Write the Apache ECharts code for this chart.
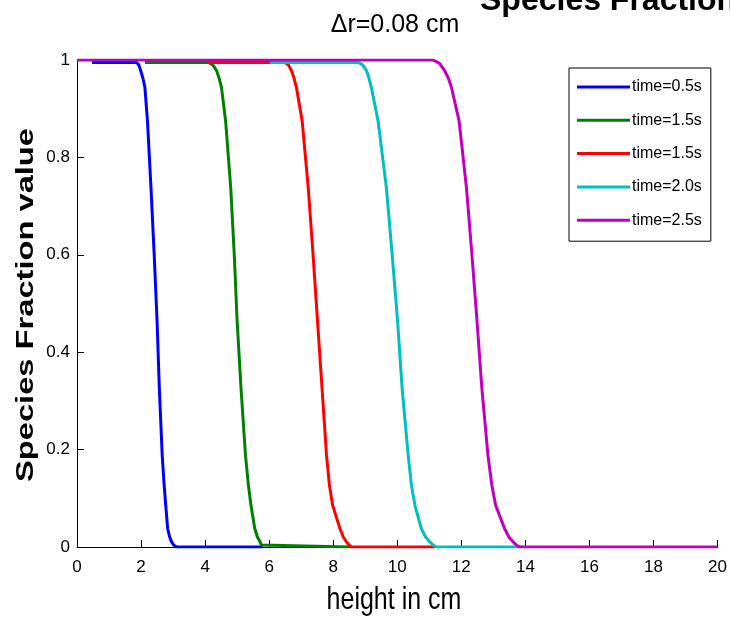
<!DOCTYPE html>
<html>
<head>
<meta charset="utf-8">
<title>Species Fraction</title>
<script src="https://cdn.jsdelivr.net/npm/echarts@6/dist/echarts.min.js"></script>
<style>
  html, body { margin: 0; padding: 0; background: #fff; }
  #chart { width: 730px; height: 623px; }
</style>
</head>
<body>
<div id="chart"></div>
<script>
// Species fraction profiles along the column height at successive times.
const legendLabels = ['time=0.5s', 'time=1.5s', 'time=1.5s', 'time=2.0s', 'time=2.5s'];
const seriesKeys = ['t1', 't2', 't3', 't4', 't5'];
const lineColors = ['#0000ff', '#008000', '#ff0000', '#00bfbf', '#bf00bf'];

const xTicks = [0, 2, 4, 6, 8, 10, 12, 14, 16, 18, 20];
const yTicks = [0, 0.2, 0.4, 0.6, 0.8, 1];

// height (cm) / fraction pairs for each profile
const height1 = [0.47, 1.86, 1.93, 1.99, 2.06, 2.12, 2.20, 2.31, 2.41, 2.50, 2.57, 2.66, 2.72, 2.77, 2.83, 2.89, 2.95, 3.02, 3.11, 5.80];
const frac1   = [0.995, 0.995, 0.99, 0.978, 0.962, 0.944, 0.875, 0.738, 0.601, 0.464, 0.327, 0.189, 0.128, 0.086, 0.038, 0.021, 0.011, 0.004, 0, 0];

const height2 = [2.12, 4.10, 4.24, 4.36, 4.44, 4.51, 4.64, 4.80, 4.91, 5.00, 5.12, 5.26, 5.35, 5.43, 5.55, 5.63, 5.71, 5.76, 5.82, 8.50];
const frac2   = [0.995, 0.995, 0.99, 0.978, 0.962, 0.944, 0.875, 0.738, 0.601, 0.464, 0.327, 0.189, 0.128, 0.086, 0.038, 0.021, 0.011, 0.004, 0, 0];

const height3 = [4.10, 6.49, 6.60, 6.70, 6.78, 6.85, 7.03, 7.22, 7.37, 7.51, 7.65, 7.79, 7.88, 7.98, 8.21, 8.31, 8.41, 8.49, 8.57, 11.20];
const frac3   = [0.995, 0.995, 0.99, 0.978, 0.962, 0.944, 0.875, 0.738, 0.601, 0.464, 0.327, 0.189, 0.128, 0.086, 0.038, 0.021, 0.011, 0.004, 0, 0];

const height4 = [6.02, 8.78, 8.92, 9.04, 9.12, 9.19, 9.40, 9.66, 9.84, 10.01, 10.15, 10.34, 10.44, 10.55, 10.75, 10.88, 11.01, 11.12, 11.22, 13.90];
const frac4   = [0.995, 0.995, 0.99, 0.978, 0.962, 0.944, 0.875, 0.738, 0.601, 0.464, 0.327, 0.189, 0.128, 0.086, 0.038, 0.021, 0.011, 0.004, 0, 0];

const height5 = [0, 11.12, 11.32, 11.48, 11.60, 11.69, 11.93, 12.16, 12.33, 12.49, 12.64, 12.83, 12.95, 13.07, 13.35, 13.48, 13.61, 13.72, 13.82, 20];
const frac5   = [1, 1, 0.993, 0.978, 0.962, 0.944, 0.875, 0.738, 0.601, 0.464, 0.327, 0.189, 0.128, 0.086, 0.038, 0.021, 0.011, 0.004, 0, 0];

const heights = [height1, height2, height3, height4, height5];
const fracs = [frac1, frac2, frac3, frac4, frac5];

const sans = '"Liberation Sans", Arial, Helvetica, sans-serif';

const chart = echarts.init(document.getElementById('chart'), null, { renderer: 'canvas' });

const series = seriesKeys.map((key, i) => ({
  name: key,
  type: 'line',
  data: heights[i].map((h, j) => [h, fracs[i][j]]),
  showSymbol: false,
  smooth: false,
  lineStyle: { color: lineColors[i], width: 3, join: 'round' },
  itemStyle: { color: lineColors[i] },
  z: 2 + i,
  silent: true,
  animation: false
}));

chart.setOption({
  animation: false,
  backgroundColor: '#ffffff',
  grid: { left: 77, right: 12, top: 60, bottom: 76, containLabel: false },
  xAxis: {
    type: 'value',
    min: xTicks[0],
    max: xTicks[xTicks.length - 1],
    interval: 2,
    axisLine: { show: true, lineStyle: { color: '#000', width: 1 } },
    axisTick: { show: true, inside: true, length: 7, lineStyle: { color: '#000' } },
    axisLabel: { fontFamily: sans, fontSize: 17, color: '#000', margin: 12 },
    splitLine: { show: false }
  },
  yAxis: {
    type: 'value',
    min: yTicks[0],
    max: yTicks[yTicks.length - 1],
    interval: 0.2,
    axisLine: { show: true, lineStyle: { color: '#000', width: 1 } },
    axisTick: { show: true, inside: true, length: 7, lineStyle: { color: '#000' } },
    axisLabel: { fontFamily: sans, fontSize: 17, color: '#000', margin: 7 },
    splitLine: { show: false }
  },
  legend: {
    orient: 'vertical',
    left: 569,
    top: 68,
    padding: [9, 9, 11, 8],
    itemGap: 13.3,
    itemWidth: 53,
    itemHeight: 3,
    icon: 'rect',
    borderColor: '#000',
    borderWidth: 1,
    borderRadius: 0,
    backgroundColor: '#fff',
    selectedMode: false,
    data: seriesKeys,
    formatter: (name) => legendLabels[seriesKeys.indexOf(name)],
    textStyle: { fontFamily: sans, fontSize: 16, color: '#000', lineHeight: 20, padding: [0, 0, 0, -3] }
  },
  graphic: [
    {
      // y-axis title
      type: 'text',
      x: 27,
      y: 305,
      rotation: Math.PI / 2,
      scaleX: 1.42,
      style: {
        text: 'Species Fraction value',
        font: 'bold 23px ' + sans,
        fill: '#000',
        textAlign: 'center',
        textVerticalAlign: 'middle'
      }
    },
    {
      // x-axis title
      type: 'text',
      x: 394,
      y: 600,
      scaleY: 1.28,
      style: {
        text: 'height in cm',
        font: '25px ' + sans,
        fill: '#000',
        textAlign: 'center',
        textVerticalAlign: 'middle'
      }
    },
    {
      type: 'text',
      x: 395,
      y: 25,
      style: {
        text: 'Δr=0.08 cm',
        font: '25px ' + sans,
        fill: '#000',
        textAlign: 'center',
        textVerticalAlign: 'middle'
      }
    },
    {
      type: 'text',
      x: 480,
      y: 1.5,
      style: {
        text: 'Species Fraction',
        font: 'bold 32px ' + sans,
        fill: '#000',
        textAlign: 'left',
        textVerticalAlign: 'middle'
      }
    }
  ],
  series: series
});
</script>
</body>
</html>
